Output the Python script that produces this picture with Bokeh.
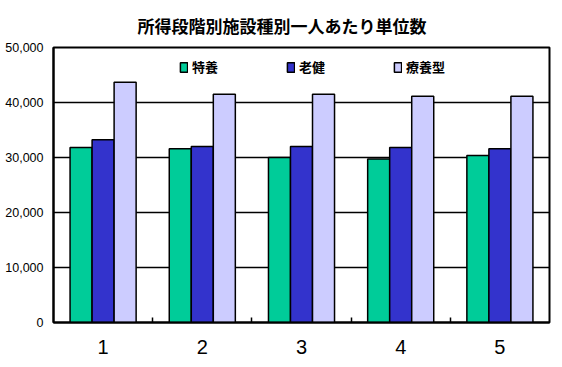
from bokeh.plotting import figure
from bokeh.models import (ColumnDataSource, FixedTicker, NumeralTickFormatter,
                          Range1d, Legend, LegendItem, Title)
from bokeh.transform import dodge
from bokeh.embed import file_html
from bokeh.resources import INLINE

categories = [1, 2, 3, 4, 5]
series_names = ["特養", "老健", "療養型"]
tokuyou = [31800, 31600, 30000, 29750, 30350]
rouken = [33250, 32000, 32000, 31800, 31600]
ryouyou = [43700, 41500, 41500, 41150, 41150]
colors = ["#00CC99", "#3333CC", "#CCCCFF"]
y_ticks = [0, 10000, 20000, 30000, 40000, 50000]
title_text = "所得段階別施設種別一人あたり単位数"

src = ColumnDataSource(dict(x=categories, s0=tokuyou, s1=rouken, s2=ryouyou))

p = figure(width=562, height=367, output_backend="svg", toolbar_location=None,
           x_range=Range1d(0.5, 5.5), y_range=Range1d(0, 50000),
           min_border_left=53, min_border_right=13, min_border_top=45,
           min_border_bottom=45)

p.title = Title(text=title_text, align="left", vertical_align="bottom",
                text_font="Noto Sans CJK JP", text_font_size="17px",
                text_font_style="bold", text_color="black", offset=84,
                standoff=20)

offsets = [-0.222, 0.0, 0.222]
renderers = []
for i, col in enumerate(["s0", "s1", "s2"]):
    r = p.vbar(x=dodge("x", offsets[i], range=p.x_range), top=col, width=0.222,
               source=src, fill_color=colors[i], line_color="black", line_width=1.5)
    renderers.append(r)

legend = Legend(items=[LegendItem(label=series_names[i], renderers=[renderers[i]])
                       for i in range(3)],
                orientation="horizontal", location=(126, 246),
                spacing=68, padding=0, margin=0, label_standoff=4,
                glyph_width=9, glyph_height=12,
                border_line_alpha=0, background_fill_alpha=0,
                label_text_font="Noto Sans CJK JP", label_text_font_style="bold",
                label_text_font_size="13px", label_text_color="black")
p.add_layout(legend, "center")

tick_font = "Liberation Sans"

p.xaxis.ticker = FixedTicker(ticks=categories, minor_ticks=[1.5, 2.5, 3.5, 4.5])
p.xaxis.major_tick_in = 0
p.xaxis.major_tick_out = 0
p.xaxis.minor_tick_in = 5
p.xaxis.minor_tick_out = 0
p.xaxis.minor_tick_line_width = 1.5
p.xaxis.minor_tick_line_color = "black"
p.xaxis.major_label_standoff = 17
p.xaxis.major_label_text_font = tick_font
p.xaxis.major_label_text_font_size = "20px"
p.xaxis.major_label_text_color = "black"
p.xaxis.axis_line_width = 2
p.xaxis.axis_line_color = "black"

p.yaxis.ticker = FixedTicker(ticks=y_ticks)
p.yaxis.formatter = NumeralTickFormatter(format="0,0")
p.yaxis.major_tick_in = 0
p.yaxis.major_tick_out = 0
p.yaxis.minor_tick_line_color = None
p.yaxis.major_label_standoff = 10
p.yaxis.major_label_text_font = tick_font
p.yaxis.major_label_text_font_size = "12.5px"
p.yaxis.major_label_text_color = "black"
p.yaxis.axis_line_width = 2
p.yaxis.axis_line_color = "black"

p.xgrid.grid_line_color = None
p.ygrid.grid_line_color = "black"
p.ygrid.grid_line_width = 1.5
p.ygrid.ticker = FixedTicker(ticks=y_ticks)

p.outline_line_color = "black"
p.outline_line_width = 2
p.background_fill_color = "white"
p.border_fill_color = "white"

open("out.html", "w").write(file_html(p, INLINE))
